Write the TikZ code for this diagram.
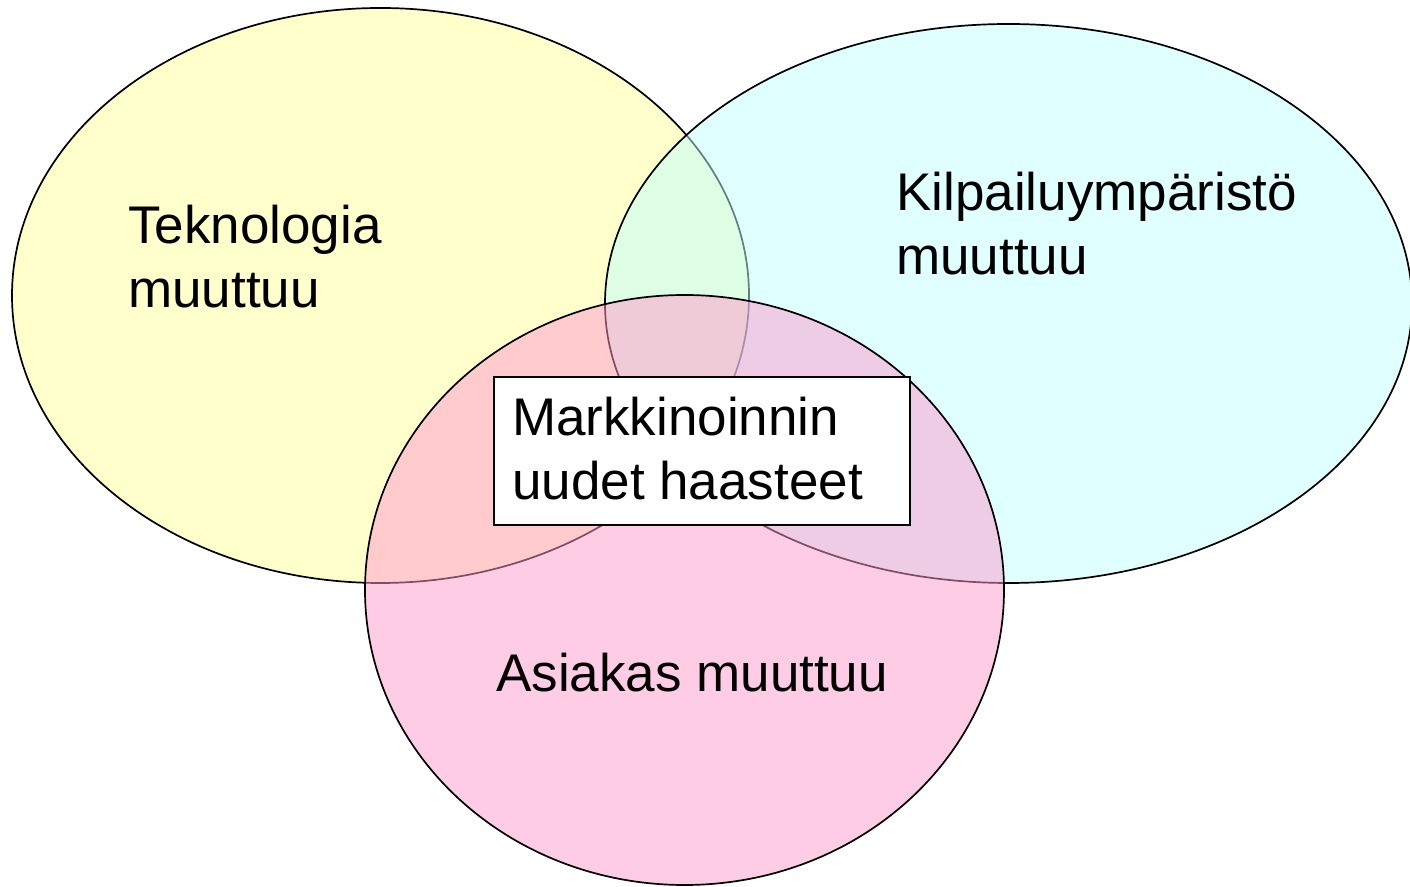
\documentclass[tikz,border=0pt]{standalone}
\usepackage{fontspec}
\setmainfont{Liberation Sans}
\definecolor{techfill}{RGB}{255,255,204}
\definecolor{compfill}{RGB}{193,255,255}
\definecolor{custfill}{RGB}{255,153,205}
\begin{document}
\begin{tikzpicture}[x=1pt,y=1pt,
  circ/.style={draw=black,line width=1.7pt},
  lbl/.style={font=\fontsize{53}{64}\selectfont,align=left,inner sep=0pt,anchor=base west},
  centrebox/.style={draw=black,line width=1.7pt,fill=white,minimum width=416pt,minimum height=148pt,
    inner sep=0pt,font=\fontsize{53}{64}\selectfont}]
\useasboundingbox (0,0) rectangle (1410,886);
\begin{scope}
\clip (0,0) rectangle (1410,886);
% the three overlapping sets
\fill[techfill] (380.5,590.5) ellipse [x radius=368.5, y radius=287.5];
\draw[circ] (380.5,590.5) ellipse [x radius=368.5, y radius=287.5];
\fill[compfill,fill opacity=0.5] (1008.5,582.5) ellipse [x radius=403.5, y radius=279.5];
\draw[circ] (1008.5,582.5) ellipse [x radius=403.5, y radius=279.5];
\fill[custfill,fill opacity=0.5] (684.5,296) ellipse [x radius=319.5, y radius=295];
\draw[circ] (684.5,296) ellipse [x radius=319.5, y radius=295];
\end{scope}
% labels (anchored at the baseline of their last line)
\node[lbl] (tech) at (128,578) {Teknologia\\muuttuu};
\node[lbl] (comp) at (896,611) {Kilpailuympäristö\\muuttuu};
\node[lbl] (cust) at (496,194) {Asiakas muuttuu};
% central box
\node[centrebox,anchor=north west] (core) at (493,510) {};
\node[lbl] (coretext) at (512,386) {Markkinoinnin\\uudet haasteet};
\end{tikzpicture}
\end{document}
